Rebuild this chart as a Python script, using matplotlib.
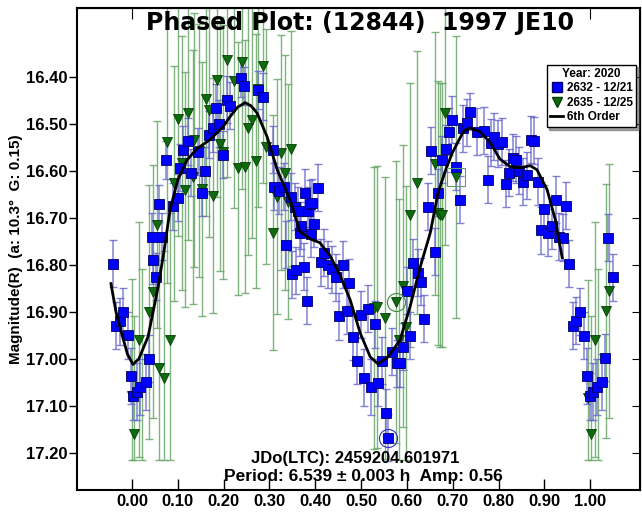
import numpy as np
import matplotlib
matplotlib.use("Agg")
import matplotlib.pyplot as plt
from matplotlib.lines import Line2D

plt.rcParams['font.family'] = ['Liberation Sans', 'DejaVu Sans']
plt.rcParams['font.weight'] = 'bold'

# 2632 - 12/21 (blue squares): phase, magnitude, error
blue_phase = [-0.041, -0.035, -0.026, -0.02, -0.009, -0.002, 0.002, 0.011, 0.017, 0.031,
              0.037, 0.044, 0.046, 0.053, 0.059, 0.066, 0.074, 0.09, 0.10, 0.105,
              0.111, 0.122, 0.129, 0.144, 0.153, 0.16, 0.168, 0.177, 0.183, 0.19,
              0.199, 0.207, 0.214, 0.238, 0.245, 0.275, 0.286, 0.308, 0.31, 0.321,
              0.332, 0.336, 0.347, 0.349, 0.356, 0.358, 0.362, 0.367, 0.369, 0.376,
              0.378, 0.382, 0.384, 0.389, 0.391, 0.393, 0.397, 0.406, 0.413, 0.419,
              0.428, 0.437, 0.445, 0.452, 0.46, 0.469, 0.474, 0.483, 0.491, 0.50,
              0.507, 0.515, 0.522, 0.531, 0.537, 0.546, 0.555, 0.559, 0.568, 0.579,
              0.585, 0.592, 0.60, 0.607, 0.614, 0.624, 0.631, 0.638, 0.646, 0.653,
              0.662, 0.668, 0.677, 0.686, 0.692, 0.699, 0.707, 0.716, 0.723, 0.731,
              0.738, 0.753, 0.769, 0.777, 0.784, 0.79, 0.799, 0.808, 0.817, 0.823,
              0.832, 0.838, 0.845, 0.854, 0.862, 0.871, 0.878, 0.886, 0.893, 0.90,
              0.908, 0.917, 0.926, 0.932, 0.941, 0.948, 0.954, 0.963, 0.969, 0.978,
              0.987, 0.993, 1.0, 1.007, 1.015, 1.026, 1.033, 1.039, 1.05]
blue_mag = [16.798, 16.93, 16.92, 16.90, 16.95, 17.036, 17.08, 17.07, 17.06, 17.05,
            17.0, 16.74, 16.79, 16.825, 16.67, 16.74, 16.577, 16.675, 16.657, 16.594,
            16.555, 16.537, 16.604, 16.56, 16.647, 16.60, 16.523, 16.51, 16.466, 16.50,
            16.566, 16.449, 16.462, 16.402, 16.42, 16.428, 16.442, 16.555, 16.634, 16.642,
            16.634, 16.757, 16.655, 16.82, 16.677, 16.812, 16.685, 16.732, 16.717, 16.804,
            16.647, 16.877, 16.685, 16.67, 16.734, 16.668, 16.713, 16.636, 16.795, 16.774,
            16.80, 16.81, 16.826, 16.909, 16.80, 16.898, 16.838, 16.953, 17.004, 16.906,
            17.04, 16.894, 17.06, 16.926, 17.051, 17.004, 17.115, 17.168, 16.985, 17.009,
            17.009, 16.974, 16.855, 16.951, 16.796, 16.817, 16.836, 16.915, 16.677, 16.557,
            16.772, 16.647, 16.577, 16.553, 16.517, 16.491, 16.591, 16.662, 16.509, 16.498,
            16.474, 16.517, 16.515, 16.619, 16.54, 16.528, 16.543, 16.538, 16.628, 16.604,
            16.572, 16.577, 16.60, 16.623, 16.61, 16.534, 16.536, 16.623, 16.726, 16.681,
            16.732, 16.717, 16.662, 16.74, 16.742, 16.674, 16.798, 16.93, 16.919, 16.90,
            16.951, 17.036, 17.08, 17.07, 17.06, 17.049, 16.998, 16.742, 16.827]
blue_err = [0.05, 0.05, 0.05, 0.05, 0.05, 0.06, 0.05, 0.06, 0.06, 0.06,
            0.05, 0.05, 0.05, 0.05, 0.04, 0.05, 0.04, 0.05, 0.05, 0.05,
            0.05, 0.05, 0.05, 0.05, 0.05, 0.05, 0.05, 0.05, 0.05, 0.05,
            0.05, 0.05, 0.05, 0.04, 0.04, 0.04, 0.05, 0.05, 0.05, 0.05,
            0.05, 0.05, 0.05, 0.05, 0.05, 0.05, 0.05, 0.05, 0.05, 0.05,
            0.05, 0.05, 0.05, 0.05, 0.05, 0.05, 0.05, 0.05, 0.05, 0.05,
            0.05, 0.05, 0.05, 0.05, 0.05, 0.05, 0.05, 0.05, 0.05, 0.05,
            0.06, 0.05, 0.06, 0.05, 0.05, 0.05, 0.05, 0.05, 0.05, 0.05,
            0.05, 0.05, 0.05, 0.05, 0.05, 0.05, 0.05, 0.05, 0.05, 0.05,
            0.05, 0.05, 0.05, 0.05, 0.05, 0.05, 0.05, 0.05, 0.05, 0.05,
            0.04, 0.05, 0.05, 0.05, 0.05, 0.05, 0.05, 0.05, 0.05, 0.05,
            0.05, 0.05, 0.05, 0.05, 0.05, 0.05, 0.05, 0.05, 0.05, 0.05,
            0.05, 0.05, 0.05, 0.05, 0.05, 0.05, 0.05, 0.05, 0.05, 0.05,
            0.05, 0.06, 0.05, 0.06, 0.06, 0.06, 0.05, 0.05, 0.05]

# 2635 - 12/25 (green triangles)
green_phase = [0.0, 0.005, 0.015, 0.022, 0.037, 0.046, 0.055, 0.059, 0.07, 0.076,
               0.083, 0.092, 0.10, 0.109, 0.116, 0.122, 0.133, 0.135, 0.146, 0.153,
               0.162, 0.168, 0.177, 0.186, 0.192, 0.199, 0.207, 0.223, 0.231, 0.24,
               0.247, 0.253, 0.262, 0.271, 0.275, 0.286, 0.293, 0.308, 0.317, 0.325,
               0.334, 0.34, 0.347, 0.528, 0.535, 0.552, 0.576, 0.583, 0.592, 0.598,
               0.607, 0.622, 0.662, 0.668, 0.672, 0.677, 0.683, 0.707, 0.996, 1.002,
               1.011, 1.018, 1.035, 1.041]
green_mag = [17.08, 17.16, 16.96, 17.06, 16.90, 16.857, 16.715, 17.02, 17.04, 16.538,
             16.96, 16.626, 16.489, 16.583, 16.64, 16.477, 16.613, 16.534, 16.557, 16.638,
             16.447, 16.47, 16.653, 16.406, 16.543, 16.56, 16.364, 16.409, 16.595, 16.368,
             16.591, 16.509, 16.492, 16.58, 16.426, 16.377, 16.549, 16.732, 16.655, 16.562,
             16.604, 16.666, 16.553, 16.892, 16.889, 16.913, 16.879, 16.96, 16.845, 16.932,
             16.694, 16.625, 16.585, 16.69, 16.694, 16.694, 16.477, 16.613, 17.083, 17.16,
             16.96, 17.06, 16.898, 16.855]
green_err = [0.25, 0.25, 0.25, 0.25, 0.27, 0.27, 0.22, 0.27, 0.27, 0.30,
             0.27, 0.25, 0.25, 0.27, 0.25, 0.27, 0.27, 0.27, 0.27, 0.27,
             0.25, 0.27, 0.25, 0.25, 0.27, 0.27, 0.25, 0.27, 0.27, 0.27,
             0.27, 0.27, 0.25, 0.27, 0.25, 0.25, 0.25, 0.25, 0.25, 0.25,
             0.25, 0.25, 0.25, 0.30, 0.30, 0.30, 0.30, 0.30, 0.30, 0.30,
             0.28, 0.28, 0.28, 0.28, 0.28, 0.28, 0.28, 0.30, 0.25, 0.25,
             0.25, 0.25, 0.27, 0.27]

# 6th order fit
fit_phase = [-0.046, -0.035, -0.02, -0.01, 0.002, 0.015, 0.035, 0.057, 0.07, 0.083,
             0.10, 0.12, 0.142, 0.17, 0.199, 0.214, 0.23, 0.247, 0.26, 0.273,
             0.295, 0.317, 0.345, 0.367, 0.389, 0.41, 0.432, 0.454, 0.476, 0.498,
             0.52, 0.537, 0.559, 0.585, 0.607, 0.629, 0.651, 0.668, 0.684, 0.699,
             0.723, 0.738, 0.76, 0.782, 0.803, 0.825, 0.847, 0.869, 0.884, 0.906,
             0.924, 0.939]
fit_mag = [16.84, 16.90, 16.955, 16.99, 17.012, 17.0, 16.953, 16.847, 16.77, 16.683,
           16.619, 16.577, 16.553, 16.534, 16.506, 16.485, 16.465, 16.455, 16.462, 16.477,
           16.528, 16.598, 16.662, 16.73, 16.745, 16.753, 16.78, 16.822, 16.874, 16.945,
           16.996, 17.011, 16.996, 16.96, 16.889, 16.805, 16.732, 16.647, 16.60, 16.562,
           16.517, 16.509, 16.517, 16.54, 16.575, 16.591, 16.594, 16.589, 16.598, 16.64,
           16.704, 16.785]

xticks = [0.0, 0.1, 0.2, 0.3, 0.4, 0.5, 0.6, 0.7, 0.8, 0.9, 1.0]
yticks = [16.4, 16.5, 16.6, 16.7, 16.8, 16.9, 17.0, 17.1, 17.2]

fig = plt.figure(figsize=(6.42, 5.13), dpi=100)
ax = fig.add_axes([0.12, 0.045, 0.877, 0.94])

gp = np.array(green_phase)
gm = np.array(green_mag)
ge = np.array(green_err)
g_low = np.minimum(ge, 17.215 - gm)
ax.errorbar(gp, gm, yerr=[ge, g_low], fmt='none', ecolor='#6aa66a', elinewidth=1.0,
            capsize=3, capthick=1, alpha=0.85, zorder=2)
ax.errorbar(blue_phase, blue_mag, yerr=blue_err, fmt='none', ecolor='#6464cc', elinewidth=1.1,
            capsize=3, capthick=1, alpha=0.8, zorder=3)
ax.plot(gp, gm, 'v', color='#0d6b0d', mec='#063d06', mew=0.6, ms=7, ls='none', zorder=4)
ax.plot(blue_phase, blue_mag, 's', color='#0000ff', mec='#000066', mew=0.6, ms=7.5, ls='none', zorder=5)
ax.plot(fit_phase, fit_mag, color='black', lw=2, zorder=6)

# highlighted points
ax.plot([0.559], [17.168], 'o', mfc='none', mec='#3030c0', ms=13, mew=0.8, zorder=6)
ax.plot([0.576], [16.879], 'o', mfc='none', mec='#3c8c3c', ms=13, mew=0.8, zorder=6)
ax.plot([0.707], [16.613], 's', mfc='none', mec='#5fa05f', ms=13, mew=0.8, zorder=6)

ax.set_xlim(-0.12, 1.109)
ax.set_ylim(17.279, 16.253)
ax.set_xticks(xticks)
ax.set_xticklabels([f"{v:.2f}" for v in xticks])
ax.set_yticks(yticks)
ax.set_yticklabels([f"{v:.2f}" for v in yticks])
ax.tick_params(axis='x', direction='in', length=8, width=1, pad=3, labelsize=12)
ax.tick_params(axis='y', direction='out', length=6, width=1, pad=1, labelsize=12)
for lbl in ax.get_xticklabels() + ax.get_yticklabels():
    lbl.set_fontweight('bold')

# right side ticks inward, top ticks only at 0 and 1
sec_y = ax.secondary_yaxis('right')
sec_y.set_yticks(yticks)
sec_y.tick_params(direction='in', length=6, labelright=False)
sec_x = ax.secondary_xaxis('top')
sec_x.set_xticks([0.0, 1.0])
sec_x.tick_params(direction='in', length=8, labeltop=False)

for s in ax.spines.values():
    s.set_linewidth(1.5)

ax.set_ylabel("Magnitude(R)  (a: 10.3°  G: 0.15)", fontsize=11, fontweight='bold', labelpad=2)

ax.text(0.503, 0.969, "Phased Plot: (12844)  1997 JE10", transform=ax.transAxes,
        ha='center', va='center', fontsize=17, fontweight='bold', family='DejaVu Sans')
ax.text(0.494, 0.066, "JDo(LTC): 2459204.601971", transform=ax.transAxes,
        ha='center', va='center', fontsize=12, fontweight='bold')
ax.text(0.508, 0.027, "Period: 6.539 \u00b1 0.003 h  Amp: 0.56", transform=ax.transAxes,
        ha='center', va='center', fontsize=12.5, fontweight='bold')

handles = [Line2D([], [], marker='s', color='#0000ff', mec='#000066', ls='none', ms=7),
           Line2D([], [], marker='v', color='#0d6b0d', mec='#063d06', ls='none', ms=7),
           Line2D([], [], color='black', lw=2)]
leg = ax.legend(handles, ["2632 - 12/21", "2635 - 12/25", "6th Order"],
                title="Year: 2020", loc='upper right', bbox_to_anchor=(0.993, 0.882),
                prop={'weight': 'bold', 'size': 8.5}, title_fontproperties={'weight': 'bold', 'size': 8.5},
                fancybox=False, shadow=True, edgecolor='black', framealpha=1,
                handlelength=1.1, handletextpad=0.3, borderpad=0.3, labelspacing=0.2,
                borderaxespad=0)
leg.get_frame().set_linewidth(1)
leg.set_zorder(10)

fig.savefig("out.png", dpi=100)
